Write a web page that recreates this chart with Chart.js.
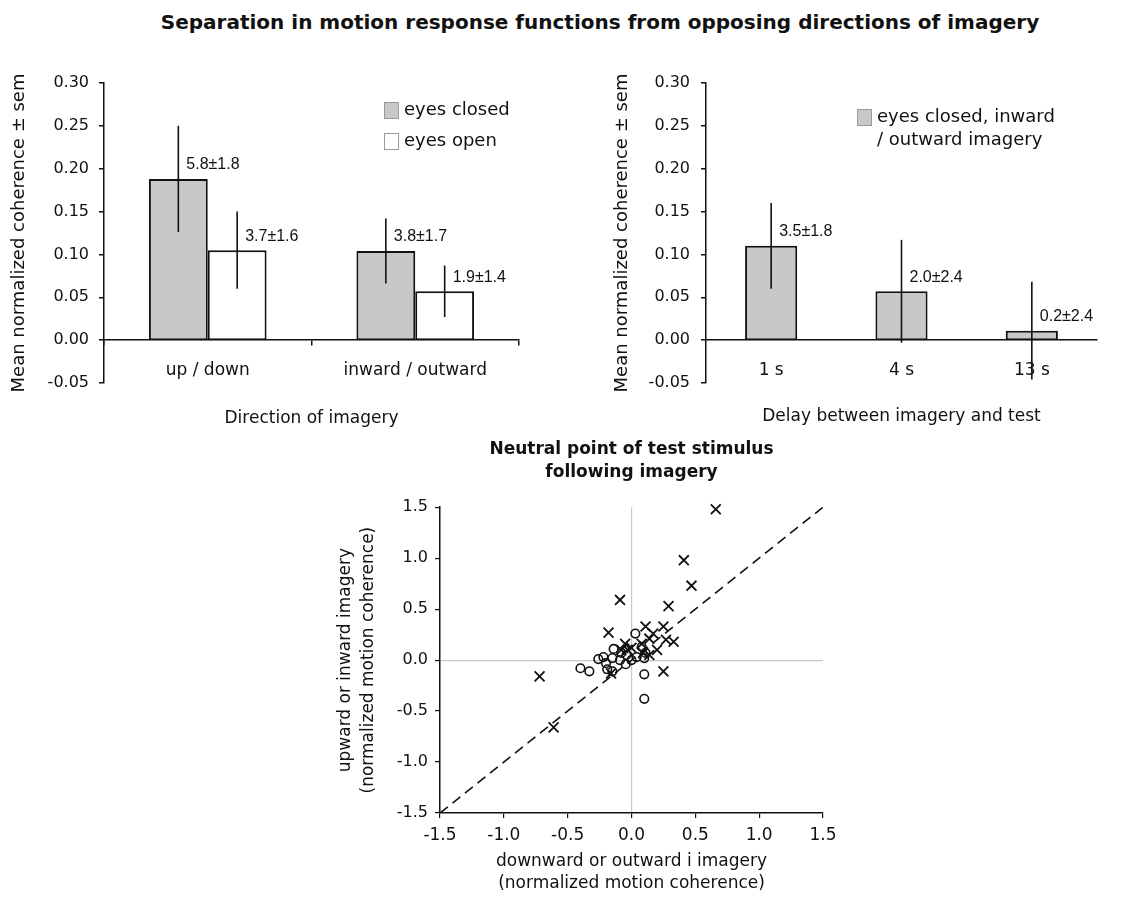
<!DOCTYPE html>
<html>
<head>
<meta charset="utf-8">
<title>Separation in motion response functions</title>
<script src="https://cdn.jsdelivr.net/npm/chart.js@4.4.1/dist/chart.umd.min.js"></script>
<style>
  body { margin: 0; background: #fff; }
  #wrap { position: relative; width: 1141px; height: 902px; overflow: hidden; }
  #mainTitle {
    position: absolute; left: 0; top: 10px; width: 1200px;
    text-align: center; font: bold 20px "DejaVu Sans"; line-height: 24px; color: #111;
  }
  canvas { position: absolute; }
</style>
</head>
<body>
<div id="wrap">
  <div id="mainTitle">Separation in motion response functions from opposing directions of imagery</div>
  <canvas id="dirChart" width="570" height="440" style="left:0;top:0"></canvas>
  <canvas id="delayChart" width="561" height="440" style="left:580px;top:0"></canvas>
  <canvas id="neutralChart" width="610" height="470" style="left:330px;top:430px"></canvas>
</div>
<script>
"use strict";

// top left: direction of imagery
var directionLabels = ["up / down", "inward / outward"];
var closedMeans = [0.188, 0.104];
var closedSem = [0.062, 0.038];
var closedNotes = ["5.8±1.8", "3.8±1.7"];
var openMeans = [0.105, 0.057];
var openSem = [0.045, 0.030];
var openNotes = ["3.7±1.6", "1.9±1.4"];

// top right: delay between imagery and test
var delayLabels = ["1 s", "4 s", "13 s"];
var delayMeans = [0.110, 0.057, 0.011];
var delaySem = [0.050, 0.060, 0.057];
var delayNotes = ["3.5±1.8", "2.0±2.4", "0.2±2.4"];

// bottom: neutral points [downward/outward, upward/inward]
var crossPoints = [
  [0.66, 1.48], [0.41, 0.98], [0.47, 0.73], [0.29, 0.53], [-0.09, 0.59],
  [-0.18, 0.27], [0.11, 0.33], [0.25, 0.33], [0.17, 0.26], [0.14, 0.21],
  [0.27, 0.20], [0.33, 0.18], [0.20, 0.10], [0.25, -0.11], [-0.72, -0.16],
  [-0.61, -0.66], [-0.05, 0.16], [-0.03, 0.10], [-0.08, 0.10], [0.08, 0.16],
  [0.09, 0.07], [0.14, 0.05], [-0.16, -0.13], [0.00, 0.12]
];
var circlePoints = [
  [0.03, 0.26], [-0.14, 0.11], [-0.26, 0.01], [-0.22, 0.03], [-0.40, -0.08],
  [-0.33, -0.11], [-0.19, -0.09], [-0.15, -0.11], [-0.15, 0.02], [-0.09, 0.00],
  [-0.045, -0.04], [0.00, 0.00], [0.04, 0.03], [0.10, 0.02], [0.10, -0.14],
  [0.10, -0.38], [0.08, 0.13], [-0.08, 0.07], [0.11, 0.07], [-0.04, 0.05],
  [-0.20, -0.03]
];
var identityLine = [[-1.5, -1.5], [1.5, 1.5]];

var ink = "#111";
Chart.defaults.font.family = "'DejaVu Sans'";
Chart.defaults.color = ink;

function toXY(list) {
  return list.map(function(p) { return {x: p[0], y: p[1]}; });
}

// avoid "-0.00" from float noise
function fixedLabel(digits) {
  return function(v) {
    if (Math.abs(v) < 1e-9) v = 0;
    return v.toFixed(digits);
  };
}

/* error bars and the "n±sem" notes beside them */
var errorBars = {
  id: "errorBars",
  afterDatasetsDraw: function(chart) {
    var ctx = chart.ctx;
    var yScale = chart.scales.y;
    chart.data.datasets.forEach(function(ds, i) {
      chart.getDatasetMeta(i).data.forEach(function(bar, j) {
        var hi = yScale.getPixelForValue(ds.data[j] + ds.sem[j]);
        var lo = yScale.getPixelForValue(ds.data[j] - ds.sem[j]);
        ctx.save();
        ctx.strokeStyle = ink;
        ctx.lineWidth = 1.6;
        ctx.beginPath();
        ctx.moveTo(bar.x, hi);
        ctx.lineTo(bar.x, lo);
        ctx.stroke();
        ctx.fillStyle = ink;
        ctx.font = "16px 'Liberation Sans'";
        ctx.textBaseline = "middle";
        ctx.fillText(ds.notes[j], bar.x + 8, bar.y - 14);
        ctx.restore();
      });
    });
  }
};

/* legend drawn inside the plot, Excel style */
var boxLegend = {
  id: "boxLegend",
  afterDraw: function(chart, args, opts) {
    var ctx = chart.ctx;
    var y = opts.y;
    ctx.save();
    ctx.font = "18px 'DejaVu Sans'";
    ctx.textBaseline = "middle";
    chart.data.datasets.forEach(function(ds) {
      var lines = ds.label.split("\n");
      ctx.fillStyle = ds.backgroundColor;
      ctx.fillRect(opts.x, y - 8, 15, 17);
      ctx.strokeStyle = "#9a9a9a";
      ctx.lineWidth = 1;
      ctx.strokeRect(opts.x + 0.5, y - 7.5, 14, 16);
      ctx.fillStyle = ink;
      lines.forEach(function(line, k) {
        ctx.fillText(line, opts.x + 20, y + k * opts.lineGap);
      });
      y += opts.rowGap + (lines.length - 1) * opts.lineGap;
    });
    ctx.restore();
  }
};

function barOptions(yAxisWidth, yTitlePad, tickPad, xTitle, xTitlePad, showXTicks, legendPos, padRight) {
  return {
    responsive: false,
    animation: false,
    layout: { padding: { top: 83, right: padRight, bottom: 57, left: 0 } },
    scales: {
      x: {
        position: { y: 0 },
        offset: true,
        grid: {
          display: true, offset: true, drawOnChartArea: false, tickLength: 5,
          color: showXTicks ? ink : "rgba(0,0,0,0)", lineWidth: 1.5
        },
        border: { display: true, color: ink, width: 1.5 },
        ticks: { font: { size: 17 }, padding: 15, color: ink },
        title: { display: true, text: xTitle, font: { size: 17 }, padding: { top: xTitlePad, bottom: 0 }, color: ink }
      },
      y: {
        min: -0.05,
        max: 0.30,
        afterFit: function(scale) { scale.width = yAxisWidth; },
        grid: { display: true, drawOnChartArea: false, tickLength: 5, color: ink, lineWidth: 1.5 },
        border: { display: true, color: ink, width: 1.5 },
        ticks: {
          stepSize: 0.05, padding: tickPad, font: { size: 16 }, color: ink,
          callback: fixedLabel(2)
        },
        title: {
          display: true, text: "Mean normalized coherence ± sem",
          font: { size: 18 }, padding: { top: yTitlePad, bottom: 0 }, color: ink
        }
      }
    },
    plugins: {
      legend: { display: false },
      tooltip: { enabled: false },
      boxLegend: legendPos
    }
  };
}

new Chart(document.getElementById("dirChart"), {
  type: "bar",
  data: {
    labels: directionLabels,
    datasets: [{
      label: "eyes closed",
      data: closedMeans,
      sem: closedSem,
      notes: closedNotes,
      backgroundColor: "#c8c8c8",
      borderColor: ink,
      borderWidth: 2,
      borderSkipped: false,
      categoryPercentage: 0.567,
      barPercentage: 1.0
    }, {
      label: "eyes open",
      data: openMeans,
      sem: openSem,
      notes: openNotes,
      backgroundColor: "#ffffff",
      borderColor: ink,
      borderWidth: 2,
      borderSkipped: false,
      categoryPercentage: 0.567,
      barPercentage: 1.0
    }]
  },
  options: barOptions(104, 9, 10, "Direction of imagery", 13, true, { x: 384, y: 110, rowGap: 31, lineGap: 23.5 }, 51),
  plugins: [errorBars, boxLegend]
});

new Chart(document.getElementById("delayChart"), {
  type: "bar",
  data: {
    labels: delayLabels,
    datasets: [{
      label: "eyes closed, inward\n/ outward imagery",
      data: delayMeans,
      sem: delaySem,
      notes: delayNotes,
      backgroundColor: "#c8c8c8",
      borderColor: ink,
      borderWidth: 2,
      borderSkipped: false,
      categoryPercentage: 0.4,
      barPercentage: 1.0
    }]
  },
  options: barOptions(126, 32, 11, "Delay between imagery and test", 11, false, { x: 277, y: 117, rowGap: 31, lineGap: 23.5 }, 44),
  plugins: [errorBars, boxLegend]
});

function neutralAxis(titleLines, isX) {
  var axis = {
    type: "linear",
    min: -1.5,
    max: 1.5,
    grid: {
      drawOnChartArea: true,
      tickLength: 5,
      lineWidth: 1.2,
      color: function(c) { return c.tick && Math.abs(c.tick.value) < 1e-9 ? "#c8c8c8" : "rgba(0,0,0,0)"; },
      tickColor: ink
    },
    border: { display: true, color: ink, width: 1.5 },
    ticks: {
      stepSize: 0.5, font: { size: isX ? 17 : 16 }, color: ink, padding: 7,
      callback: fixedLabel(1)
    },
    title: {
      display: true, text: titleLines, font: { size: 17, lineHeight: 1.3 }, color: ink,
      padding: isX ? { top: 0, bottom: 5 } : { top: 5, bottom: 0 }
    }
  };
  if (isX) {
    axis.position = "bottom";
    axis.afterFit = function(scale) { scale.height = 87; };
  } else {
    axis.position = "left";
    axis.afterFit = function(scale) { scale.width = 110; };
  }
  return axis;
}

new Chart(document.getElementById("neutralChart"), {
  type: "scatter",
  data: {
    datasets: [{
      label: "equality",
      data: toXY(identityLine),
      showLine: true,
      borderColor: ink,
      borderWidth: 1.6,
      borderDash: [10, 6],
      pointRadius: 0
    }, {
      label: "circles",
      data: toXY(circlePoints),
      pointStyle: "circle",
      pointRadius: 4.3,
      borderWidth: 1.6,
      borderColor: ink,
      backgroundColor: "rgba(0,0,0,0)"
    }, {
      label: "crosses",
      data: toXY(crossPoints),
      clip: false,
      pointStyle: "crossRot",
      pointRadius: 7,
      borderWidth: 1.8,
      borderColor: ink,
      backgroundColor: "rgba(0,0,0,0)"
    }]
  },
  options: {
    responsive: false,
    animation: false,
    layout: { padding: { top: 0, right: 117, bottom: 0, left: 0 } },
    scales: {
      x: neutralAxis(["downward or outward i imagery", "(normalized motion coherence)"], true),
      y: neutralAxis(["upward or inward imagery", "(normalized motion coherence)"], false)
    },
    plugins: {
      legend: { display: false },
      tooltip: { enabled: false },
      title: {
        display: true,
        fullSize: false,
        text: ["Neutral point of test stimulus", "following imagery"],
        font: { size: 17, weight: "bold", lineHeight: 1.3 },
        color: ink,
        padding: { top: 9, bottom: 24 }
      }
    }
  }
});
</script>
</body>
</html>
